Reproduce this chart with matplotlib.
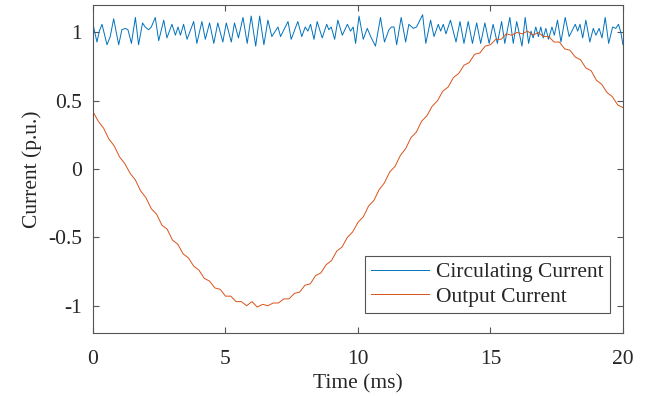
import matplotlib
matplotlib.use("Agg")
import matplotlib.pyplot as plt
import numpy as np

# Circulating current (p.u.) — read at turning points
t_circ = [0.00, 0.15, 0.24, 0.34, 0.53, 0.65, 0.78, 0.97, 1.09, 1.22, 1.32, 1.45, 1.60, 1.72, 1.87, 1.97,
          2.10, 2.20, 2.35, 2.48, 2.67, 2.79, 2.98, 3.11, 3.21, 3.30, 3.42, 3.55, 3.80, 3.92,
          4.11, 4.24, 4.40, 4.56, 4.71, 4.90, 5.03, 5.22, 5.34, 5.49, 5.66, 5.82, 5.97, 6.14,
          6.29, 6.45, 6.60, 6.75, 6.88, 6.98, 7.08, 7.23, 7.36, 7.48, 7.73, 7.88, 8.01,
          8.11, 8.21, 8.34, 8.46, 8.65, 8.82, 8.90, 8.99, 9.12, 9.24, 9.41, 9.60, 9.72, 9.82,
          9.91, 10.04, 10.20, 10.35, 10.48, 10.66, 10.85, 11.00, 11.17, 11.26, 11.36, 11.46,
          11.63, 11.80, 11.92, 12.09, 12.21, 12.44, 12.56, 12.74, 12.87, 13.03, 13.12, 13.22,
          13.32, 13.49, 13.70, 13.85, 14.00, 14.16, 14.32, 14.48, 14.63, 14.79, 14.95, 15.10,
          15.26, 15.42, 15.54, 15.73, 15.86, 15.99, 16.19, 16.31, 16.44, 16.53, 16.61, 16.71,
          16.81, 16.90, 16.99, 17.09, 17.19, 17.32, 17.41, 17.53, 17.66, 17.82, 17.97, 18.10,
          18.20, 18.29, 18.38, 18.48, 18.60, 18.75, 18.88, 18.98, 19.10, 19.21, 19.33, 19.46,
          19.61, 19.73, 19.83, 19.92, 20.00]
i_circ = [1.06, 0.93, 1.01, 1.06, 0.91, 0.97, 1.10, 0.91, 1.02, 1.03, 1.02, 0.92, 1.11, 0.91, 1.07, 1.04,
          1.02, 1.04, 1.11, 0.94, 1.09, 0.96, 1.06, 0.98, 1.04, 0.98, 1.06, 0.95, 1.08, 0.92,
          1.08, 0.95, 1.07, 0.92, 1.07, 0.93, 1.07, 0.93, 1.07, 0.96, 1.11, 0.92, 1.12, 0.90,
          1.12, 0.91, 1.09, 0.97, 1.01, 1.04, 0.97, 1.03, 1.08, 0.95, 1.08, 0.97, 1.04,
          1.01, 1.06, 0.95, 1.08, 0.96, 1.06, 1.02, 1.04, 0.95, 1.09, 0.98, 1.06, 1.01, 1.04,
          0.92, 1.12, 0.95, 1.03, 0.97, 0.90, 1.11, 0.93, 1.02, 1.04, 1.04, 0.91,
          1.11, 0.93, 1.06, 1.03, 1.04, 1.13, 0.92, 1.09, 0.97, 1.06, 1.01, 1.06,
          0.99, 1.09, 0.93, 1.08, 0.92, 1.08, 0.92, 1.07, 0.92, 1.07, 0.92, 1.06,
          0.92, 1.08, 0.92, 1.11, 0.92, 1.08, 0.90, 1.11, 0.92, 1.01, 0.96, 1.04,
          0.97, 1.04, 0.96, 1.03, 0.95, 1.04, 0.98, 1.09, 0.93, 1.11, 0.97, 1.02,
          1.06, 1.01, 1.06, 0.96, 1.09, 0.93, 1.03, 0.98, 1.03, 0.96, 1.11, 0.92,
          1.04, 1.03, 1.06, 1.00, 0.91]

# Output current (p.u.), sampled every 0.2 ms
t_out = [round(0.2 * k, 1) for k in range(101)]
i_out = [0.42, 0.35, 0.30, 0.22, 0.17, 0.09, 0.04, -0.03, -0.08, -0.16,
         -0.21, -0.29, -0.33, -0.41, -0.44, -0.52, -0.55, -0.62, -0.65, -0.71,
         -0.74, -0.80, -0.82, -0.87, -0.88, -0.93, -0.93, -0.97, -0.97, -1.00,
         -0.97, -1.01, -0.99, -1.00, -0.98, -0.98, -0.95, -0.95, -0.91, -0.90,
         -0.85, -0.84, -0.78, -0.76, -0.70, -0.67, -0.60, -0.57, -0.50, -0.46,
         -0.39, -0.35, -0.27, -0.23, -0.15, -0.10, -0.02, 0.02, 0.10, 0.15,
         0.23, 0.27, 0.35, 0.39, 0.46, 0.50, 0.57, 0.60, 0.67, 0.70,
         0.76, 0.78, 0.84, 0.85, 0.90, 0.91, 0.95, 0.95, 0.99, 0.98,
         1.00, 0.99, 1.01, 0.98, 1.00, 0.97, 0.97, 0.93, 0.93, 0.88,
         0.87, 0.82, 0.80, 0.74, 0.72, 0.65, 0.62, 0.56, 0.53, 0.47, 0.45]

x_ticks = [0, 5, 10, 15, 20]
y_ticks = [-1, -0.5, 0, 0.5, 1]
y_tick_labels = ["-1", "-0.5", "0", "0.5", "1"]

plt.rcParams['font.family'] = ['Liberation Serif', 'DejaVu Serif']

fig = plt.figure(figsize=(6.53, 3.96), dpi=100)
ax = fig.add_axes([0.1424, 0.159, 0.8116, 0.828])

ax.plot(t_circ, i_circ, color='#0072BD', lw=0.7, label='Circulating Current')
ax.plot(t_out, i_out, color='#D95319', lw=0.7, label='Output Current')

ax.set_xlim(0, 20)
ax.set_ylim(-1.2, 1.2)
ax.set_xticks(x_ticks)
ax.set_yticks(y_ticks)
ax.set_yticklabels(y_tick_labels)

gray = '#262626'
edge = '#555555'
for s in ax.spines.values():
    s.set_color(edge)
    s.set_linewidth(0.8)
ax.tick_params(direction='in', top=True, right=True, length=4, width=0.8,
               colors=edge, labelcolor=gray, labelsize=15.5)
ax.tick_params(axis='x', pad=12)
ax.tick_params(axis='y', pad=8)

ax.set_xlabel('Time (ms)', fontsize=15.5, color=gray, labelpad=4)
ax.set_ylabel('Current (p.u.)', fontsize=15.5, color=gray, labelpad=4)

leg = ax.legend(loc='lower right', bbox_to_anchor=(0.9755, 0.061),
                fontsize=15.5, frameon=True, fancybox=False,
                edgecolor=edge, framealpha=1, handlelength=2.7,
                handletextpad=0.3, borderpad=0.3, labelspacing=0.2,
                borderaxespad=0)
leg.get_frame().set_linewidth(0.8)
for txt in leg.get_texts():
    txt.set_color(gray)

fig.savefig('out.png', dpi=100)
